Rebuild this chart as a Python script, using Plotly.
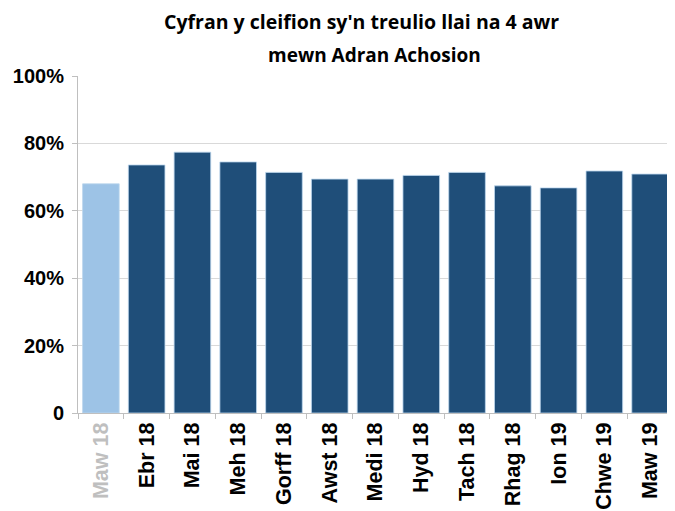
import plotly.graph_objects as go

categories = ["Maw 18", "Ebr 18", "Mai 18", "Meh 18", "Gorff 18", "Awst 18", "Medi 18",
              "Hyd 18", "Tach 18", "Rhag 18", "Ion 19", "Chwe 19", "Maw 19"]
values = [0.680, 0.736, 0.774, 0.745, 0.714, 0.694, 0.694, 0.705, 0.714, 0.674, 0.668, 0.718, 0.709]
bar_colors = ["#9DC3E6"] + ["#1F4E79"] * 12
label_colors = ["#BFBFBF"] + ["#000000"] * 12
y_ticks = [0, 0.2, 0.4, 0.6, 0.8, 1.0]
y_tick_labels = ["0", "20%", "40%", "60%", "80%", "100%"]
title_lines = ["Cyfran y cleifion sy'n treulio llai na 4 awr", "mewn Adran Achosion"]

ticktext = [f"<span style='color:{c}'>{t}</span>" for t, c in zip(categories, label_colors)]

fig = go.Figure(go.Bar(
    x=categories, y=values,
    marker=dict(color=bar_colors, line=dict(color="#BDD7EE", width=0.8)),
))

title_font = dict(family="Open Sans", size=19.5, color="black", weight="bold")
fig.add_annotation(text=title_lines[0], xref="paper", yref="paper", x=0.4765, y=1.163,
                   xanchor="center", yanchor="middle", showarrow=False, font=title_font)
fig.add_annotation(text=title_lines[1], xref="paper", yref="paper", x=0.4983, y=1.062,
                   xanchor="center", yanchor="middle", showarrow=False,
                   font=dict(family="Open Sans", size=19, color="black", weight="bold"))

fig.update_layout(
    width=667, height=503,
    margin=dict(l=70, r=2, t=68, b=98),
    paper_bgcolor="white", plot_bgcolor="white",
    bargap=0.2,
    showlegend=False,
    xaxis=dict(
        tickmode="array", tickvals=categories, ticktext=ticktext,
        tickangle=-90, ticks="outside", tickson="boundaries", ticklen=5,
        tickcolor="#BFBFBF", showline=True, linecolor="#BFBFBF", linewidth=1,
        tickfont=dict(family="Liberation Sans", size=21.5, color="black", weight="bold"),
        automargin=False,
    ),
    yaxis=dict(
        range=[0, 1.0], tickvals=y_ticks, ticktext=y_tick_labels,
        showgrid=True, gridcolor="#D9D9D9", gridwidth=1,
        ticks="outside", ticklen=5, tickcolor="#BFBFBF",
        showline=True, linecolor="#BFBFBF", linewidth=1,
        zeroline=False, ticklabelstandoff=4,
        tickfont=dict(family="Liberation Sans", size=20, color="black", weight="bold"),
        automargin=False,
    ),
)

fig.write_html("out.html")
